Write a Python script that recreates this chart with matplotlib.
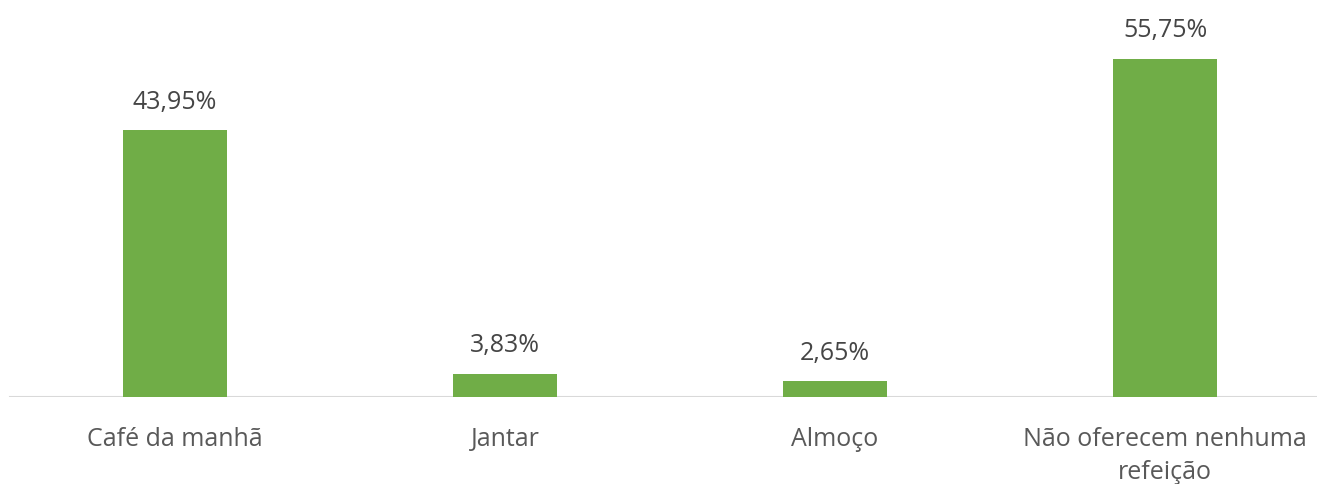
import matplotlib.pyplot as plt

plt.rcParams['font.family'] = ['Open Sans', 'DejaVu Sans']

categories = ["Café da manhã", "Jantar", "Almoço", "Não oferecem nenhuma\nrefeição"]
values = [43.95, 3.83, 2.65, 55.75]
labels = ["43,95%", "3,83%", "2,65%", "55,75%"]

text_color = "#595959"
bar_color = "#70AD47"

fig = plt.figure(figsize=(13.17, 4.85), dpi=100)
ax = fig.add_axes([0, 87 / 485, 1, 398 / 485])

x = range(len(categories))
bars = ax.bar(x, values, width=0.315, color=bar_color, zorder=2)

for b, lab in zip(bars, labels):
    ax.text(b.get_x() + b.get_width() / 2, b.get_height() + 2.7, lab,
            ha="center", va="bottom", fontsize=18, color="#454545")

ax.set_xlim(-175 / 330, (1317 - 175) / 330)
ax.set_ylim(0, 398 / 6.07)

for s in ax.spines.values():
    s.set_visible(False)
ax.axhline(0, xmin=10 / 1317, xmax=1, color="#d9d9d9", lw=1.5, zorder=1)

ax.set_yticks([])
ax.set_xticks(list(x))
ax.set_xticklabels(categories, fontsize=18, color=text_color, linespacing=1.4)
ax.tick_params(axis="x", length=0, pad=21)

fig.savefig("out.png", dpi=100)
